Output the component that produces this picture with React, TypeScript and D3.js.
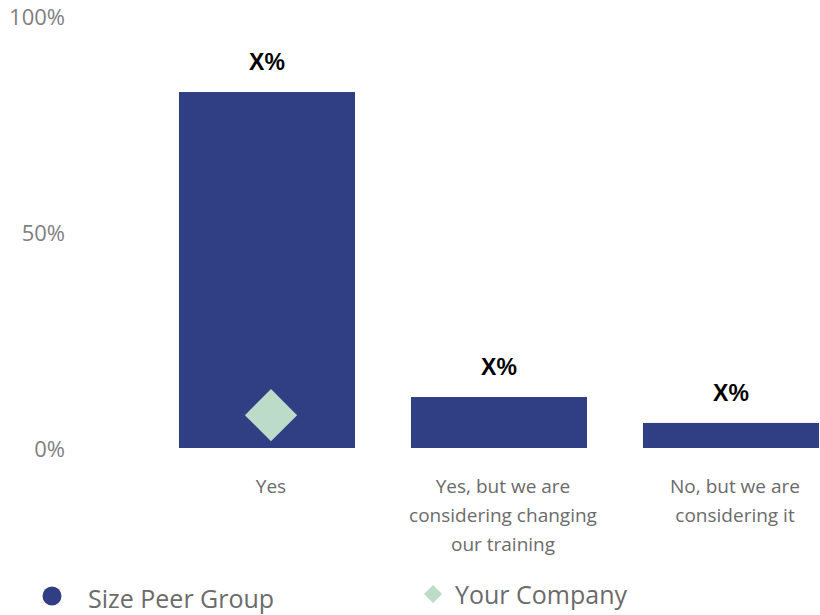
import React from "react";
import * as d3 from "d3";

const categories: string[][] = [
  ["Yes"],
  ["Yes, but we are", "considering changing", "our training"],
  ["No, but we are", "considering it"],
];
const peerValues = [82.4, 11.8, 5.8];
const companyValues: (number | null)[] = [7.6, null, null];
const valueLabels = ["X%", "X%", "X%"];
const yTicks = [0, 50, 100];
const legendLabels = ["Size Peer Group", "Your Company"];

const W = 820;
const H = 615;
const BAR_COLOR = "#303f83";
const DIAMOND_COLOR = "#bddbc9";
const FONT = "'Open Sans', 'Noto Sans', sans-serif";

export default function App() {
  const x = d3
    .scaleBand<number>()
    .domain(d3.range(categories.length))
    .range([151, 847])
    .paddingInner(56 / 232)
    .paddingOuter(28 / 232);
  const y = d3.scaleLinear().domain([0, 100]).range([448, 16]);
  const labelShift = 4;
  const diamond = d3.symbol().type(d3.symbolDiamond2).size(1740)();
  const legendDiamond = d3.symbol().type(d3.symbolDiamond2).size(210)();

  return (
    <svg
      width={W}
      height={H}
      style={{ position: "absolute", left: 0, top: 0, background: "#fff" }}
      fontFamily={FONT}
    >
      {yTicks.map((t) => (
        <text
          key={t}
          x={65}
          y={y(t)}
          textAnchor="end"
          dominantBaseline="central"
          fontSize={22}
          fill="#7f7f7f"
        >
          {t}%
        </text>
      ))}
      {peerValues.map((v, i) => (
        <rect
          key={i}
          x={x(i)!}
          y={y(v)}
          width={x.bandwidth()}
          height={y(0) - y(v)}
          fill={BAR_COLOR}
        />
      ))}
      {peerValues.map((v, i) => (
        <text
          key={"l" + i}
          x={x(i)! + x.bandwidth() / 2}
          y={y(v) - 30}
          textAnchor="middle"
          dominantBaseline="central"
          fontFamily="'Liberation Sans', Arial, sans-serif"
          fontWeight="bold"
          fontSize={23}
          fill="#000"
        >
          {valueLabels[i]}
        </text>
      ))}
      {companyValues.map((v, i) =>
        v == null ? null : (
          <path
            key={"d" + i}
            d={diamond!}
            transform={`translate(${x(i)! + x.bandwidth() / 2 + labelShift},${y(v)})`}
            fill={DIAMOND_COLOR}
          />
        )
      )}
      {categories.map((lines, i) => (
        <text
          key={"c" + i}
          x={x(i)! + x.bandwidth() / 2 + labelShift}
          textAnchor="middle"
          fontSize={19}
          fill="#6b6b6b"
        >
          {lines.map((ln, j) => (
            <tspan key={j} x={x(i)! + x.bandwidth() / 2 + labelShift} y={486 + j * 29} dominantBaseline="central">
              {ln}
            </tspan>
          ))}
        </text>
      ))}
      <g>
        <circle cx={52} cy={596} r={9.5} fill={BAR_COLOR} />
        <text x={88} y={598} dominantBaseline="central" fontSize={25} fill="#6b6b6b">
          {legendLabels[0]}
        </text>
        <path d={legendDiamond!} transform="translate(433,594)" fill={DIAMOND_COLOR} />
        <text x={455} y={594} dominantBaseline="central" fontSize={25} fill="#6b6b6b">
          {legendLabels[1]}
        </text>
      </g>
    </svg>
  );
}
